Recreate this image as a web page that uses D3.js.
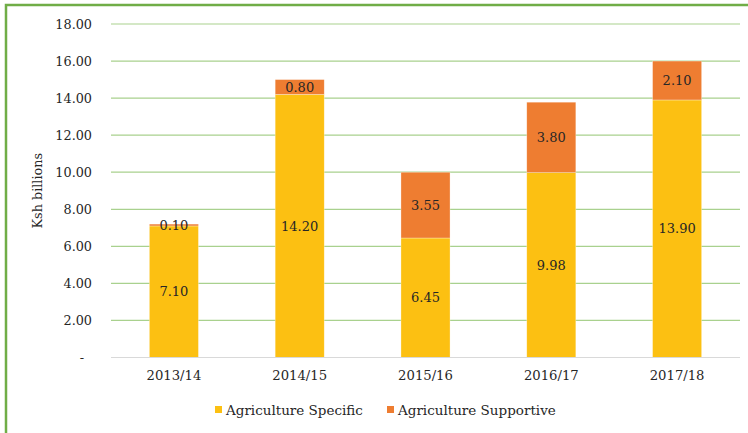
<!DOCTYPE html>
<html>
<head>
<meta charset="utf-8">
<script src="https://cdn.jsdelivr.net/npm/d3@7"></script>
<style>
  html, body { margin: 0; padding: 0; background: #fff; }
  svg { display: block; }
  text { font-family: "DejaVu Serif", "Liberation Serif", serif; fill: #262626; }
</style>
</head>
<body>
<svg id="chart" width="748" height="433"></svg>
<script>
// Agriculture budget by fiscal year (Ksh billions)
const years = ["2013/14", "2014/15", "2015/16", "2016/17", "2017/18"];
const specific = [7.10, 14.20, 6.45, 9.98, 13.90];
const supportive = [0.10, 0.80, 3.55, 3.80, 2.10];
const seriesNames = ["Agriculture Specific", "Agriculture Supportive"];
const seriesColors = ["#FCC012", "#EE7D31"];
const yTicks = [0, 2, 4, 6, 8, 10, 12, 14, 16, 18];

const svg = d3.select("#chart");
const W = 748, H = 433;
const plot = { left: 111, right: 740, top: 24, bottom: 357.5 };

// outer frame
svg.append("rect")
  .attr("x", 6).attr("y", 5)
  .attr("width", W + 10).attr("height", H + 10)
  .attr("fill", "none").attr("stroke", "#70AD47").attr("stroke-width", 2.5);

const x = d3.scaleBand().domain(years).range([plot.left, plot.right]).paddingInner(0.61).paddingOuter(0.305);
const y = d3.scaleLinear().domain([0, 18]).range([plot.bottom, plot.top]);

// gridlines
svg.append("g").selectAll("line").data(yTicks.filter(d => d > 0)).join("line")
  .attr("x1", plot.left).attr("x2", plot.right)
  .attr("y1", d => y(d)).attr("y2", d => y(d))
  .attr("stroke", "#A9D18E").attr("stroke-width", 1.2);

// y axis labels
const yAxis = d3.axisLeft(y).tickValues(yTicks)
  .tickFormat(d => d === 0 ? "-" : d3.format(".2f")(d))
  .tickSize(0).tickPadding(0);
const yg = svg.append("g").attr("transform", `translate(${plot.left - 19},0)`).call(yAxis);
yg.select(".domain").remove();
yg.selectAll("text").attr("font-size", 12.8).style("font-family", "\"DejaVu Serif\", serif").attr("fill", "#262626");
yg.selectAll(".tick").filter(d => d === 0).select("text").attr("dx", -8);

// y axis title
svg.append("text")
  .attr("transform", `translate(42,${(plot.top + plot.bottom) / 2}) rotate(-90)`)
  .attr("text-anchor", "middle").attr("font-size", 12.8)
  .text("Ksh billions");

// stacked bars
const rows = years.map((yr, i) => ({ year: yr, s0: specific[i], s1: supportive[i] }));
const stack = d3.stack().keys(["s0", "s1"])(rows);

const layers = svg.append("g").selectAll("g").data(stack).join("g")
  .attr("fill", (d, i) => seriesColors[i]);

layers.selectAll("rect").data(d => d).join("rect")
  .attr("x", d => x(d.data.year))
  .attr("width", x.bandwidth())
  .attr("y", d => y(d[1]))
  .attr("height", d => y(d[0]) - y(d[1]))
  .attr("stroke", "#fff").attr("stroke-opacity", 0.5).attr("stroke-width", 0.6);

// value labels, centred on each segment
layers.selectAll("text").data(d => d.map(p => ({ p, key: d.key }))).join("text")
  .attr("x", d => x(d.p.data.year) + x.bandwidth() / 2)
  .attr("y", d => y((d.p[0] + d.p[1]) / 2))
  .attr("dy", "0.35em")
  .attr("text-anchor", "middle").attr("font-size", 13)
  .attr("fill", "#262626")
  .text(d => d3.format(".2f")(d.p.data[d.key]));

// baseline
svg.append("line")
  .attr("x1", plot.left).attr("x2", plot.right)
  .attr("y1", y(0)).attr("y2", y(0))
  .attr("stroke", "#D9D9D9").attr("stroke-width", 1);

// x axis labels
const xAxis = d3.axisBottom(x).tickSize(0).tickPadding(0);
const xg = svg.append("g").attr("transform", `translate(0,${plot.bottom + 18})`).call(xAxis);
xg.select(".domain").remove();
xg.selectAll("text").attr("font-size", 13.2).style("font-family", "\"DejaVu Serif\", serif").attr("fill", "#262626").attr("dy", "0.35em");

// legend
const legendX = [215, 387];
const lg = svg.append("g").selectAll("g").data(seriesNames).join("g")
  .attr("transform", (d, i) => `translate(${legendX[i]},410)`);
lg.append("rect").attr("x", 0).attr("y", -4).attr("width", 7).attr("height", 7)
  .attr("fill", (d, i) => seriesColors[i]);
lg.append("text").attr("x", 11).attr("y", 0).attr("dy", "0.35em")
  .attr("font-size", 13.5).text(d => d);
</script>
</body>
</html>
